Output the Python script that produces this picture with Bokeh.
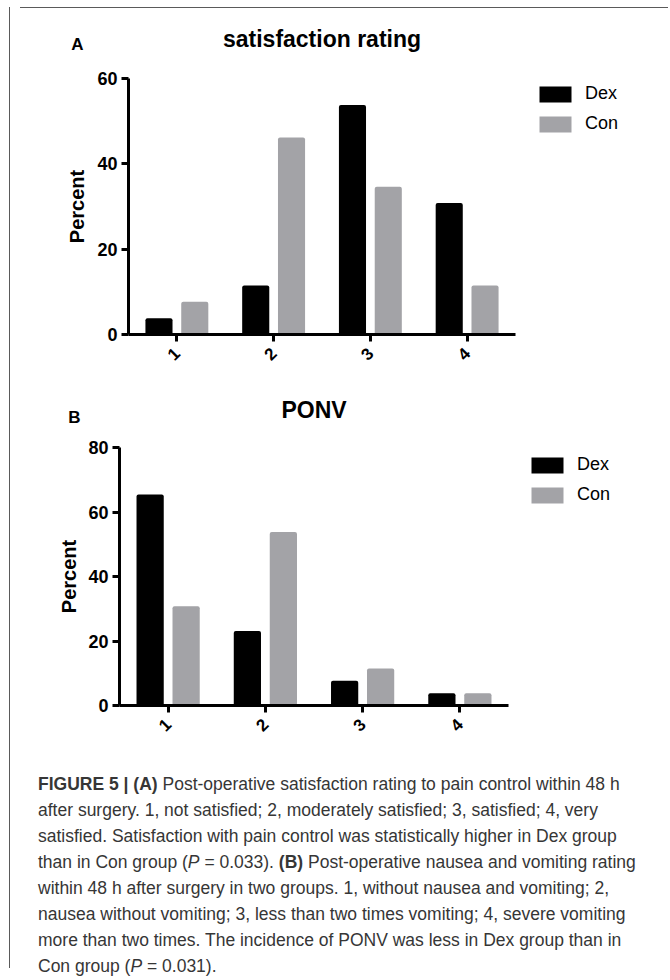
import math
from bokeh.plotting import figure
from bokeh.models import (ColumnDataSource, Range1d, FixedTicker,
                          Legend, LegendItem, Label, Div, Spacer)
from bokeh.layouts import column, row
from bokeh.transform import dodge
from bokeh.embed import file_html
from bokeh.resources import INLINE

# ---------------- data ----------------
categories = ["1", "2", "3", "4"]
series_names = ["Dex", "Con"]

sat_dex = [3.8, 11.5, 53.8, 30.8]
sat_con = [7.7, 46.2, 34.6, 11.5]
sat_ticks = [0, 20, 40, 60]

ponv_dex = [65.4, 23.1, 7.7, 3.8]
ponv_con = [30.8, 53.8, 11.5, 3.8]
ponv_ticks = [0, 20, 40, 60, 80]

caption_lines = [
    "<b>FIGURE 5 | (A)</b> Post-operative satisfaction rating to pain control within 48 h",
    "after surgery. 1, not satisfied; 2, moderately satisfied; 3, satisfied; 4, very",
    "satisfied. Satisfaction with pain control was statistically higher in Dex group",
    "than in Con group (<i>P</i> = 0.033). <b>(B)</b> Post-operative nausea and vomiting rating",
    "within 48 h after surgery in two groups. 1, without nausea and vomiting; 2,",
    "nausea without vomiting; 3, less than two times vomiting; 4, severe vomiting",
    "more than two times. The incidence of PONV was less in Dex group than in",
    "Con group (<i>P</i> = 0.031).",
]

# ---------------- style ----------------
FONT = "Liberation Sans"
DEX_COLOR = "#000000"
CON_COLOR = "#a3a3a7"
FRAME_COLOR = "#5a5a5a"
W = 648
TOP_PAD = 4
A_SHIFT = 9   # panel A's axes sit a little further right than panel B's


def make_panel(letter, title, dex, con, ticks, width, H, left, axis_px, frame_w,
               axis_top, axis_h, letter_dx, letter_dy, title_dy, ylabel_dx,
               legend_xy):
    """Pixel offsets (dx, dy) are measured from the axes' top-left corner."""
    n = len(categories)
    ymax = ticks[-1]
    xpos = [i + 1 for i in range(n)]
    src = ColumnDataSource(dict(x=xpos, dex=dex, con=con))
    px_x = axis_px / n            # pixels per category
    px_y = axis_h / ymax          # pixels per percent
    x_end = 0.5 + frame_w / px_x
    y_end = ymax + (axis_top - TOP_PAD) / px_y
    p = figure(width=width, height=H,
               x_range=Range1d(0.5, x_end),
               y_range=Range1d(0, y_end),
               output_backend="svg", toolbar_location=None,
               min_border_left=left, min_border_right=width - left - frame_w,
               min_border_top=TOP_PAD, min_border_bottom=H - axis_top - axis_h)
    r1 = p.vbar(x=dodge("x", -0.185), top="dex", width=0.28,
                source=src, fill_color=DEX_COLOR, line_color=None, border_radius=2)
    r2 = p.vbar(x=dodge("x", 0.185), top="con", width=0.28,
                source=src, fill_color=CON_COLOR, line_color=None, border_radius=2)

    p.xgrid.visible = False
    p.ygrid.visible = False
    p.outline_line_color = None
    p.background_fill_color = "white"
    p.border_fill_color = "white"

    for ax in (p.xaxis[0], p.yaxis[0]):
        ax.axis_line_width = 3
        ax.axis_line_color = "black"
        ax.major_tick_line_width = 3
        ax.major_tick_line_color = "black"
        ax.major_tick_out = 7
        ax.major_tick_in = 0
        ax.minor_tick_out = 0
        ax.minor_tick_in = 0
        ax.major_label_text_font = FONT
        ax.major_label_text_font_style = "bold"
        ax.major_label_text_color = "black"

    p.yaxis.ticker = FixedTicker(ticks=ticks)
    p.yaxis.bounds = (0, ymax)
    p.yaxis.major_label_text_font_size = "18px"
    p.yaxis.major_label_standoff = 4

    p.xaxis.ticker = FixedTicker(ticks=xpos)
    p.xaxis.major_label_overrides = {x: c for x, c in zip(xpos, categories)}
    p.xaxis.bounds = (0.5, n + 0.5)
    p.xaxis.major_label_orientation = math.pi / 4
    p.xaxis.major_label_text_font_size = "17px"
    p.xaxis.major_label_standoff = 9

    legend = Legend(items=[LegendItem(label=series_names[0], renderers=[r1]),
                           LegendItem(label=series_names[1], renderers=[r2])],
                    location=legend_xy, orientation="vertical",
                    glyph_width=40, glyph_height=20, label_height=20,
                    label_standoff=10, spacing=9, padding=0, margin=0,
                    border_line_alpha=0, background_fill_alpha=0,
                    label_text_font=FONT, label_text_font_size="18px",
                    label_text_color="black")
    p.add_layout(legend)

    # title inside the (extended) frame, centred over the category axis
    p.add_layout(Label(x=(n + 1) / 2, y=ymax + title_dy / px_y, text=title,
                       text_font=FONT, text_font_size="23px", text_font_style="bold",
                       text_color="black", text_align="center",
                       text_baseline="middle"))
    # panel letter and y-axis title in the left border area
    p.add_layout(Label(x=0.5 - letter_dx / px_x, y=ymax + letter_dy / px_y, text=letter,
                       text_font=FONT, text_font_size="17px", text_font_style="bold",
                       text_color="black", text_align="center",
                       text_baseline="middle"), "left")
    p.add_layout(Label(x=0.5 - ylabel_dx / px_x, y=ymax / 2, text="Percent",
                       angle=math.pi / 2, text_font=FONT, text_font_size="20px",
                       text_font_style="bold", text_color="black",
                       text_align="center", text_baseline="middle"), "left")
    return p


pA = make_panel("A", "satisfaction rating", sat_dex, sat_con, sat_ticks,
                width=W - A_SHIFT, H=369, left=104, axis_px=387, frame_w=524,
                axis_top=65, axis_h=256,
                letter_dx=51, letter_dy=34, title_dy=40, ylabel_dx=52,
                legend_xy=(407, 200))

pB = make_panel("B", "PONV", ponv_dex, ponv_con, ponv_ticks,
                width=W, H=378, left=104, axis_px=389, frame_w=533,
                axis_top=65, axis_h=258,
                letter_dx=45, letter_dy=30, title_dy=38, ylabel_dx=51,
                legend_xy=(408, 200))

cap_html = ('<div style="font-family:\'Liberation Sans\',Arial,sans-serif;font-size:17.5px;'
            'color:#363636;line-height:26px;white-space:nowrap;padding-left:18px;'
            'padding-top:6px;">' + "<br>".join(caption_lines) + "</div>")
cap = Div(text=cap_html, width=W, height=213, styles={"overflow": "hidden"})

top_rule = Div(text="", width=W, height=1, styles={"background-color": FRAME_COLOR})
left_rule = Div(text="", width=1, height=961, styles={"background-color": FRAME_COLOR})

rowA = row(Spacer(width=A_SHIFT, height=369), pA)
inner = column(top_rule, rowA, pB, cap)
layout = column(Spacer(width=10, height=2),
                row(Spacer(width=4, height=10), left_rule, inner))

open("out.html", "w").write(file_html(layout, INLINE))
